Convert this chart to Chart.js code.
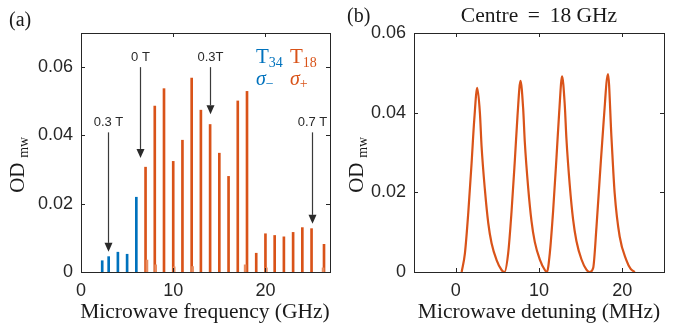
<!DOCTYPE html>
<html>
<head>
<meta charset="utf-8">
<script src="https://cdn.jsdelivr.net/npm/chart.js@4.4.1/dist/chart.umd.min.js"></script>
<style>
  html, body { margin: 0; padding: 0; background: #fff; overflow: hidden; }
  #wrap { position: relative; width: 680px; height: 326px; }
  canvas { position: absolute; top: 0; }
  #panelA { left: 0; }
  #panelB { left: 340px; }
</style>
</head>
<body>
<div id="wrap">
  <canvas id="panelA" width="340" height="326"></canvas>
  <canvas id="panelB" width="340" height="326"></canvas>
</div>
<script>
// Panel (a): transition lines, frequency in GHz
const blueFreq = [2.3, 3, 4, 5, 6];
const blueOD = [0.0033, 0.0045, 0.0058, 0.0052, 0.0219];
const orangeFreq = [7, 8, 9, 10, 11, 12, 13, 14, 15, 16, 17, 18, 19, 20, 21, 22, 23, 24, 25, 26.35];
const orangeOD = [0.0307, 0.0486, 0.0537, 0.0324, 0.0386, 0.0568, 0.0474, 0.0432, 0.0348, 0.0280,
                  0.0501, 0.0529, 0.0055, 0.0112, 0.0107, 0.0103, 0.0116, 0.0130, 0.0127, 0.0081];
const stubFreq = [7.15, 8.1, 10.1, 12.1, 17.8, 20.1, 26.25];
const stubOD = [0.0035, 0.0021, 0.0015, 0.0016, 0.0021, 0.0012, 0.0012];
const freqTicks = [0, 10, 20];
const odTicksA = [0, 0.02, 0.04, 0.06];

// field markers (arrows)
const arrowText = ['0.3 T', '0 T', '0.3T', '0.7 T'];
const arrowFreq = [2.92, 6.41, 13.98, 25.04];
const arrowFrom = [0.0409, 0.0600, 0.0600, 0.0409];
const arrowTo = [0.0059, 0.0334, 0.0462, 0.0141];

// Panel (b): detuning trace, centre = 18 GHz
const detuning = [
  0.72, 1.11, 1.51, 1.91, 2.23, 2.59, 2.91, 3.11, 3.51, 3.91, 4.31, 4.91, 5.51, 5.85,
  6.30, 6.70, 7.10, 7.42, 7.78, 8.10, 8.30, 8.70, 9.10, 9.50, 10.10, 10.70, 10.95,
  11.30, 11.70, 12.10, 12.42, 12.77, 13.09, 13.29, 13.69, 14.09, 14.49, 15.09, 15.69, 16.10,
  16.50, 16.90, 17.30, 17.77, 18.28, 18.69, 19.08, 19.68, 20.48, 21.00, 21.50
];
const traceOD = [
  0, 0.0047, 0.0148, 0.0273, 0.0382, 0.0462, 0.0399, 0.0315, 0.0206, 0.0123, 0.0072, 0.0030, 0.0005, 0,
  0.0047, 0.0150, 0.0280, 0.0392, 0.0480, 0.0410, 0.0325, 0.0212, 0.0128, 0.0075, 0.0031, 0.0005, 0,
  0.0048, 0.0155, 0.0288, 0.0400, 0.0491, 0.0420, 0.0335, 0.0218, 0.0132, 0.0078, 0.0032, 0.0006, 0,
  0.0010, 0.0114, 0.0240, 0.0382, 0.0497, 0.0340, 0.0198, 0.0089, 0.0030, 0.0008, 0
];
const detuningTicks = [0, 10, 20];
const odTicksB = [0, 0.02, 0.04, 0.06];

const BLUE = '#0072BD';
const ORANGE = '#D95319';
const AXIS = '#262626';
const SANS = '"Liberation Sans", Arial, sans-serif';
const SERIF = '"Liberation Serif", "Times New Roman", serif';

function fmtOD(v) {
  return v === 0 ? '0' : v.toFixed(2);
}

// box around the plot with inward tick marks, like a matlab axes
const framePlugin = {
  id: 'frame',
  afterDraw(chart) {
    const { ctx, chartArea: a, scales } = chart;
    const x = scales.x, y = scales.y;
    const tl = 4;
    ctx.save();
    ctx.strokeStyle = AXIS;
    ctx.lineWidth = 1;
    ctx.strokeRect(Math.round(a.left) + 0.5, Math.round(a.top) + 0.5,
                   Math.round(a.width), Math.round(a.height));
    ctx.beginPath();
    x.ticks.forEach(t => {
      const px = Math.round(x.getPixelForValue(t.value)) + 0.5;
      ctx.moveTo(px, a.bottom); ctx.lineTo(px, a.bottom - tl);
      ctx.moveTo(px, a.top); ctx.lineTo(px, a.top + tl);
    });
    y.ticks.forEach(t => {
      const py = Math.round(y.getPixelForValue(t.value)) + 0.5;
      ctx.moveTo(a.left, py); ctx.lineTo(a.left + tl, py);
      ctx.moveTo(a.right, py); ctx.lineTo(a.right - tl, py);
    });
    ctx.stroke();
    ctx.restore();
  }
};

// text with a smaller subscript after it
function drawSub(ctx, base, sub, x, y, size, subSize, drop, italic) {
  ctx.font = (italic ? 'italic ' : '') + size + 'px ' + SERIF;
  ctx.fillText(base, x, y);
  const w = ctx.measureText(base).width;
  ctx.font = subSize + 'px ' + SERIF;
  ctx.fillText(sub, x + w, y + drop);
  return w + ctx.measureText(sub).width;
}

function drawYLabel(ctx, x, yc) {
  ctx.save();
  ctx.translate(x, yc);
  ctx.rotate(-Math.PI / 2);
  ctx.fillStyle = '#1a1a1a';
  ctx.textBaseline = 'alphabetic';
  ctx.font = '21px ' + SERIF;
  const w1 = ctx.measureText('OD').width;
  ctx.font = '14px ' + SERIF;
  const w2 = ctx.measureText('mw').width;
  drawSub(ctx, 'OD', 'mw', -(w1 + w2) / 2, 0, 21, 14, 4, false);
  ctx.restore();
}

function drawArrow(ctx, px, y0, y1) {
  const head = 9, half = 4;
  ctx.beginPath();
  ctx.moveTo(px, y0);
  ctx.lineTo(px, y1 - head);
  ctx.stroke();
  ctx.beginPath();
  ctx.moveTo(px, y1);
  ctx.lineTo(px - half, y1 - head);
  ctx.lineTo(px + half, y1 - head);
  ctx.closePath();
  ctx.fill();
}

const panelAText = {
  id: 'panelAText',
  afterDraw(chart) {
    const { ctx, scales: { x, y } } = chart;
    ctx.save();
    ctx.fillStyle = '#1a1a1a';
    ctx.textAlign = 'left';
    ctx.font = '20px ' + SERIF;
    ctx.fillText('(a)', 9, 26);
    ctx.textAlign = 'center';
    ctx.font = '21.5px ' + SERIF;
    ctx.fillText('Microwave frequency (GHz)', 205, 318);
    drawYLabel(ctx, 24, 152);

    // arrows with field labels
    ctx.strokeStyle = '#3a3a3a';
    ctx.fillStyle = '#2a2a2a';
    ctx.lineWidth = 1.2;
    ctx.font = '13px ' + SANS;
    ctx.textAlign = 'center';
    arrowFreq.forEach((f, i) => {
      const px = Math.round(x.getPixelForValue(f)) + 0.5;
      const y0 = y.getPixelForValue(arrowFrom[i]);
      const y1 = y.getPixelForValue(arrowTo[i]);
      drawArrow(ctx, px, y0, y1);
      ctx.fillText(arrowText[i], px, y0 - 6);
    });

    // line labels
    ctx.textAlign = 'left';
    ctx.fillStyle = BLUE;
    drawSub(ctx, 'T', '34', 256, 63, 21, 14, 4, false);
    drawSub(ctx, 'σ', '−', 256, 85, 20, 14, 3, true);
    ctx.fillStyle = ORANGE;
    drawSub(ctx, 'T', '18', 290, 63, 21, 14, 4, false);
    drawSub(ctx, 'σ', '+', 290, 85, 20, 14, 3, true);
    ctx.restore();
  }
};

const panelBText = {
  id: 'panelBText',
  afterDraw(chart) {
    const { ctx } = chart;
    ctx.save();
    ctx.fillStyle = '#1a1a1a';
    ctx.font = '20px ' + SERIF;
    ctx.textAlign = 'left';
    ctx.fillText('(b)', 7, 22);
    ctx.textAlign = 'center';
    ctx.font = '21.5px ' + SERIF;
    ctx.fillText('Centre \u2009=\u2009 18 GHz', 199, 22);
    ctx.fillText('Microwave detuning (MHz)', 199, 318);
    drawYLabel(ctx, 23, 152);
    ctx.restore();
  }
};

function axisOptions(min, max, tickList, fit, fmt) {
  return {
    type: 'linear',
    min: min,
    max: max,
    offset: false,
    grid: { display: false, drawTicks: false },
    border: { display: false },
    afterBuildTicks: s => { s.ticks = tickList.map(v => ({ value: v })); },
    afterFit: fit,
    ticks: {
      color: AXIS,
      font: { family: SANS, size: 18 },
      padding: 8,
      maxRotation: 0,
      autoSkip: false,
      callback: fmt
    }
  };
}

new Chart(document.getElementById('panelA'), {
  type: 'bar',
  data: {
    datasets: [
      {
        data: stubFreq.map((f, i) => ({ x: f, y: stubOD[i] })),
        backgroundColor: '#E98B5E',
        barThickness: 2
      },
      {
        data: blueFreq.map((f, i) => ({ x: f, y: blueOD[i] })),
        backgroundColor: BLUE,
        barThickness: 2
      },
      {
        data: orangeFreq.map((f, i) => ({ x: f, y: orangeOD[i] })),
        backgroundColor: ORANGE,
        barThickness: 2
      }
    ]
  },
  options: {
    responsive: false,
    animation: false,
    events: [],
    datasets: { bar: { grouped: false } },
    layout: { padding: { top: 33, right: 10, left: 0, bottom: 0 } },
    plugins: { legend: { display: false }, tooltip: { enabled: false } },
    scales: {
      x: axisOptions(0, 27, freqTicks, s => { s.height = 54; }, v => String(v)),
      y: axisOptions(0, 0.07, odTicksA, s => { s.width = 81; }, fmtOD)
    }
  },
  plugins: [framePlugin, panelAText]
});

new Chart(document.getElementById('panelB'), {
  type: 'line',
  data: {
    datasets: [{
      data: detuning.map((d, i) => ({ x: d, y: traceOD[i] })),
      borderColor: ORANGE,
      borderWidth: 2.2,
      pointRadius: 0,
      fill: false,
      cubicInterpolationMode: 'monotone'
    }]
  },
  options: {
    responsive: false,
    animation: false,
    events: [],
    layout: { padding: { top: 33, right: 16, left: 0, bottom: 0 } },
    plugins: { legend: { display: false }, tooltip: { enabled: false } },
    scales: {
      x: axisOptions(-5, 25, detuningTicks, s => { s.height = 54; }, v => String(v)),
      y: axisOptions(0, 0.06, odTicksB, s => { s.width = 74; }, fmtOD)
    }
  },
  plugins: [framePlugin, panelBText]
});
</script>
</body>
</html>
